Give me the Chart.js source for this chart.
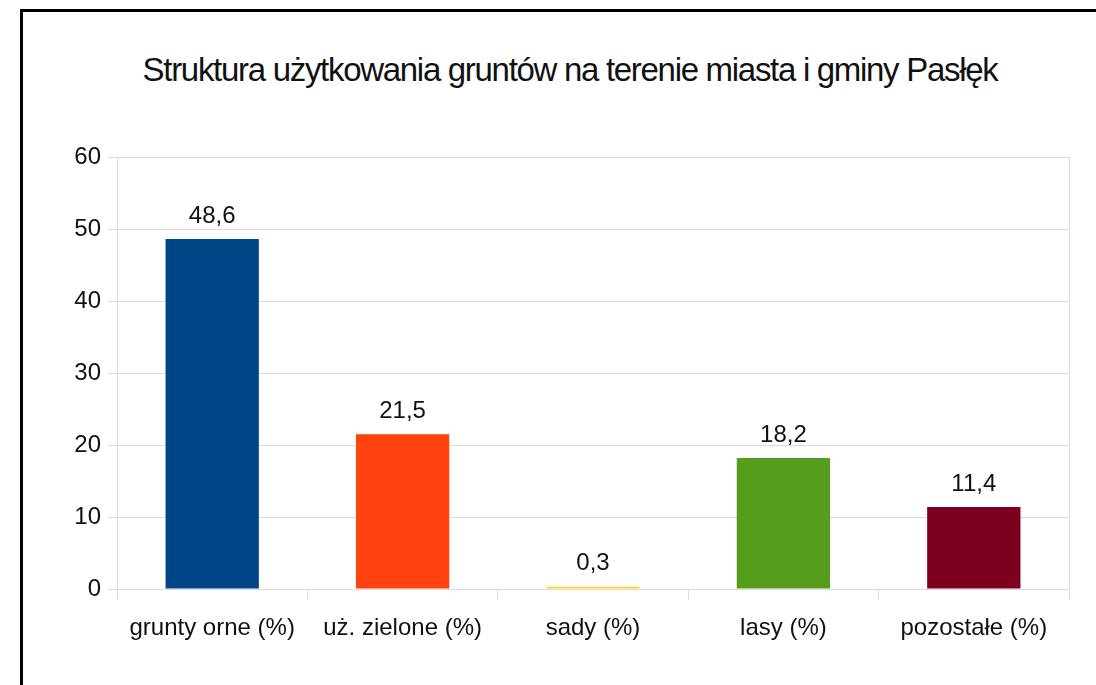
<!DOCTYPE html>
<html lang="pl">
<head>
    <meta charset="UTF-8">
    <title>Struktura użytkowania gruntów</title>
    <script src="https://cdn.jsdelivr.net/npm/chart.js"></script>
    <style>
        body {
            margin: 0;
            padding: 0;
            background: #fff;
            overflow: hidden;
            font-family: 'Liberation Sans', Arial, sans-serif;
        }
        .frame {
            position: absolute;
            left: 20px;
            top: 9px;
            width: 1200px;
            height: 800px;
            border-left: 3px solid #000;
            border-top: 3px solid #000;
        }
        .title {
            position: absolute;
            left: 0;
            top: 50px;
            width: 1140px;
            text-align: center;
            font-size: 33px;
            line-height: 40px;
            letter-spacing: -1.3px;
            color: #111;
            white-space: nowrap;
        }
        .wrap {
            position: absolute;
            left: 0;
            top: 0;
            width: 1096px;
            height: 685px;
        }
    </style>
</head>
<body>
    <div class="frame"></div>
    <div class="title">Struktura użytkowania gruntów na terenie miasta i gminy Pasłęk</div>
    <div class="wrap">
        <canvas id="landChart"></canvas>
    </div>

    <script>
        // data
        var categories = ['grunty orne (%)', 'uż. zielone (%)', 'sady (%)', 'lasy (%)', 'pozostałe (%)'];
        var shares = [48.6, 21.5, 0.3, 18.2, 11.4];
        var barColors = ['#004586', '#ff420e', '#ffd320', '#579d1c', '#7e0021'];
        var yTicks = [0, 10, 20, 30, 40, 50, 60];

        var gridGray = '#dcdcdc';
        var font = 'Liberation Sans, Arial, sans-serif';

        // value labels above bars, Polish decimal comma
        var valueLabels = {
            id: 'valueLabels',
            afterDatasetsDraw: function(chart) {
                var ctx = chart.ctx;
                var meta = chart.getDatasetMeta(0);
                ctx.save();
                ctx.font = '24px ' + font;
                ctx.fillStyle = '#111';
                ctx.textAlign = 'center';
                ctx.textBaseline = 'bottom';
                meta.data.forEach(function(bar, i) {
                    var txt = shares[i].toFixed(1).replace('.', ',');
                    ctx.fillText(txt, bar.x, bar.y - 11);
                });
                ctx.restore();
            }
        };

        var ctx = document.getElementById('landChart').getContext('2d');
        var landChart = new Chart(ctx, {
            type: 'bar',
            data: {
                labels: categories,
                datasets: [{
                    data: shares,
                    backgroundColor: barColors,
                    borderWidth: 0,
                    barPercentage: 0.49,
                    categoryPercentage: 1.0
                }]
            },
            options: {
                responsive: true,
                maintainAspectRatio: false,
                animation: false,
                layout: {
                    padding: { left: 0, right: 27, top: 157, bottom: 0 }
                },
                plugins: {
                    legend: { display: false },
                    tooltip: { enabled: false },
                    title: { display: false }
                },
                scales: {
                    x: {
                        offset: true,
                        grid: {
                            offset: true,
                            drawOnChartArea: false,
                            drawTicks: true,
                            tickLength: 11,
                            color: gridGray
                        },
                        border: { display: true, color: gridGray },
                        ticks: {
                            color: '#111',
                            padding: 14,
                            maxRotation: 0,
                            font: { family: font, size: 24 }
                        },
                        afterFit: function(s) { s.height = 96; }
                    },
                    y: {
                        min: 0,
                        max: 60,
                        afterBuildTicks: function(s) {
                            s.ticks = yTicks.map(function(v) { return { value: v }; });
                        },
                        grid: {
                            color: gridGray,
                            tickLength: 9
                        },
                        border: { display: true, color: gridGray },
                        ticks: {
                            color: '#111',
                            padding: 7,
                            font: { family: font, size: 24 }
                        },
                        afterFit: function(s) { s.width = 117; }
                    },
                    yRight: {
                        position: 'right',
                        min: 0,
                        max: 60,
                        grid: { drawOnChartArea: false, drawTicks: false },
                        border: { display: true, color: gridGray },
                        ticks: { display: false },
                        afterFit: function(s) { s.width = 0; }
                    }
                }
            },
            plugins: [valueLabels]
        });
    </script>
</body>
</html>
